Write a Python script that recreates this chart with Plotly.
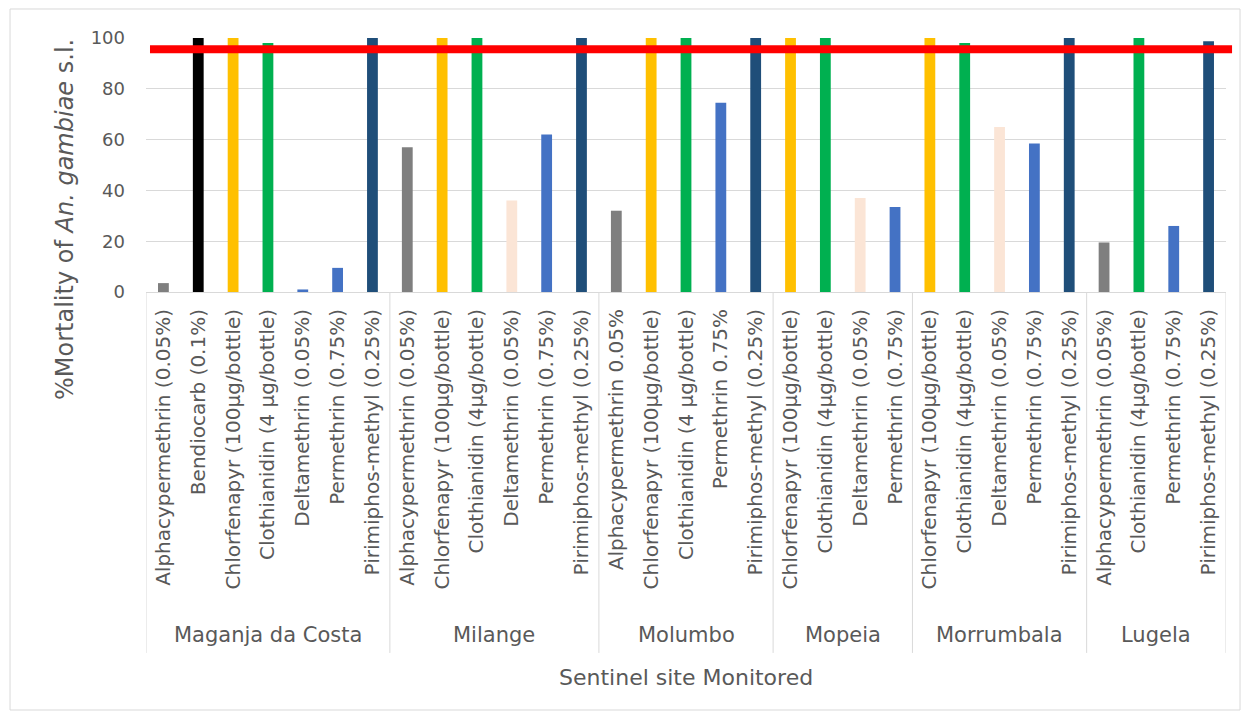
import plotly.graph_objects as go

site_names = ["Maganja da Costa", "Milange", "Molumbo", "Mopeia", "Morrumbala", "Lugela"]
site_counts = [7, 6, 5, 4, 5, 4]

insecticides = [
    "Alphacypermethrin (0.05%)", "Bendiocarb (0.1%)", "Chlorfenapyr (100µg/bottle)",
    "Clothianidin (4 µg/bottle)", "Deltamethrin (0.05%)", "Permethrin (0.75%)",
    "Pirimiphos-methyl (0.25%)",
    "Alphacypermethrin (0.05%)", "Chlorfenapyr (100µg/bottle)", "Clothianidin (4µg/bottle)",
    "Deltamethrin (0.05%)", "Permethrin (0.75%)", "Pirimiphos-methyl (0.25%)",
    "Alphacypermethrin 0.05%", "Chlorfenapyr (100µg/bottle)", "Clothianidin (4 µg/bottle)",
    "Permethrin 0.75%", "Pirimiphos-methyl (0.25%)",
    "Chlorfenapyr (100µg/bottle)", "Clothianidin (4µg/bottle)", "Deltamethrin (0.05%)",
    "Permethrin (0.75%)",
    "Chlorfenapyr (100µg/bottle)", "Clothianidin (4µg/bottle)", "Deltamethrin (0.05%)",
    "Permethrin (0.75%)", "Pirimiphos-methyl (0.25%)",
    "Alphacypermethrin (0.05%)", "Clothianidin (4µg/bottle)", "Permethrin (0.75%)",
    "Pirimiphos-methyl (0.25%)",
]

mortality = [
    3.5, 100, 100, 98, 1, 9.5, 100,
    57, 100, 100, 36, 62, 100,
    32, 100, 100, 74.5, 100,
    100, 100, 37, 33.5,
    100, 98, 65, 58.5, 100,
    19.5, 100, 26, 98.7,
]

threshold = 95.6

y_ticks = [0, 20, 40, 60, 80, 100]

x_title = "Sentinel site Monitored"
y_title = "%Mortality of <i>An. gambiae</i> s.l."

# styling
color_map = {
    "Alphacypermethrin": "#7F7F7F",
    "Bendiocarb": "#000000",
    "Chlorfenapyr": "#FFC000",
    "Clothianidin": "#00B050",
    "Deltamethrin": "#FBE5D6",
    "Permethrin": "#4472C4",
    "Pirimiphos-methyl": "#1F4E79",
}
colors = [color_map[name.split(" ")[0]] for name in insecticides]
colors[4] = "#4472C4"  # in the original, this small bar is drawn in blue

FONT = "DejaVu Sans"
GREY = "#595959"
LINE = "#D9D9D9"

n = len(mortality)
xs = list(range(n))

fig = go.Figure()
fig.add_trace(go.Bar(
    x=xs,
    y=mortality,
    marker=dict(color=colors, line=dict(width=0)),
    showlegend=False,
    width=0.31,
))

# group dividers and group labels
start = 0
bounds = [start - 0.5]
for name, cnt in zip(site_names, site_counts):
    fig.add_annotation(x=start + (cnt - 1) / 2, xref="x", y=-1.350, yref="paper",
                       text=name, showarrow=False, yanchor="middle",
                       font=dict(family=FONT, size=21, color=GREY))
    start += cnt
    bounds.append(start - 0.5)
for b in bounds:
    fig.add_shape(type="line", xref="x", yref="paper", x0=b, x1=b, y0=0, y1=-1.421,
                  line=dict(color=LINE, width=1), layer="below")

# axis titles
fig.add_annotation(x=(n - 1) / 2, xref="x", y=-1.519, yref="paper",
                   text=x_title, showarrow=False, yanchor="middle",
                   font=dict(family=FONT, size=22, color=GREY))
fig.add_annotation(x=-0.075, xref="paper", y=0.2835, yref="paper",
                   text=y_title, showarrow=False, textangle=-90,
                   xanchor="center", yanchor="middle",
                   font=dict(family=FONT, size=24, color=GREY))

fig.add_shape(type="line", xref="paper", yref="y",
              x0=0.0037, x1=1.0056, y0=threshold, y1=threshold,
              line=dict(color="#FF0000", width=8), layer="above")

fig.add_shape(type="rect", xref="paper", yref="paper",
              x0=-0.1259, x1=1.0130, y0=-1.6457, y1=1.1142,
              line=dict(color=LINE, width=1), layer="below")

fig.update_layout(
    width=1246, height=721,
    margin=dict(l=146, r=20, t=38, b=429),
    paper_bgcolor="white", plot_bgcolor="white",
    font=dict(family=FONT, size=18, color=GREY),
)
fig.update_xaxes(
    range=[-0.5, n - 0.5],
    tickmode="array", tickvals=xs, ticktext=insecticides,
    tickangle=-90,
    tickfont=dict(family=FONT, size=20, color=GREY),
    ticklabelstandoff=8,
    showline=True, linecolor=LINE, linewidth=1,
    showgrid=False, zeroline=False,
    ticks="",
)
fig.update_yaxes(
    range=[0, 100], tickmode="array", tickvals=y_ticks,
    showgrid=True, gridcolor=LINE, gridwidth=1,
    zeroline=False,
    tickfont=dict(family=FONT, size=18, color=GREY),
    ticklabelstandoff=20,
)

fig.write_html("out.html")
